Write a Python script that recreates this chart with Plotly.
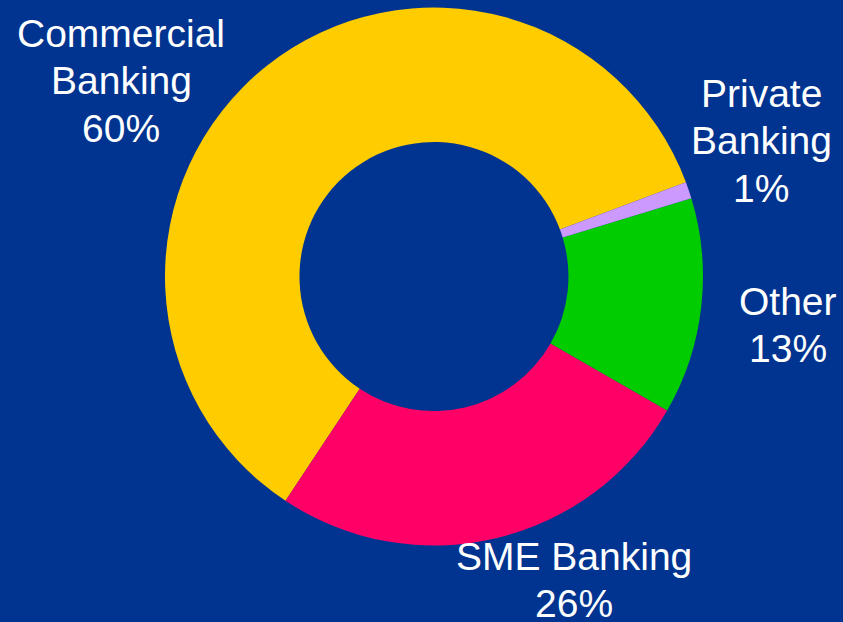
import plotly.graph_objects as go

# Revenue split by business line (share of total, %)
segments = ["Commercial Banking", "SME Banking", "Other", "Private Banking"]
shares = [60, 26, 13, 1]
slice_colors = ["#FFCC00", "#FF0066", "#00CC00", "#CC99FF"]

# Label lines printed beside each slice (the share is added as the last line)
label_lines = [["Commercial", "Banking"], ["SME Banking"], ["Other"], ["Private", "Banking"]]

# Label placement in pixels: horizontal centre and baseline of the first line
label_cx = [121, 574, 788, 761]
label_base = [47, 570, 315, 107]
LINE_PITCH = 47.5
FONT_SIZE = 39

BG = "#003490"
W, H = 843, 622

fig = go.Figure()
fig.add_trace(go.Pie(
    labels=segments,
    values=shares,
    hole=0.5,
    sort=False,
    direction="counterclockwise",
    rotation=213.5,
    marker=dict(colors=slice_colors, line=dict(width=0)),
    textinfo="none",
    hoverinfo="label+percent",
    showlegend=False,
    domain=dict(x=[0.1957, 0.8339], y=[0.1230, 0.9879]),
))

for lines, share, cx, base in zip(label_lines, shares, label_cx, label_base):
    for i, line in enumerate(lines + [f"{share}%"]):
        baseline = base + i * LINE_PITCH
        mid = baseline - 0.3465 * FONT_SIZE
        fig.add_annotation(
            text=line,
            x=cx / W, y=1 - mid / H, xref="paper", yref="paper",
            xanchor="center", yanchor="middle",
            showarrow=False,
            font=dict(family="Arial, Liberation Sans, sans-serif", size=FONT_SIZE, color="white"),
        )

fig.update_layout(
    width=W, height=H,
    margin=dict(l=0, r=0, t=0, b=0),
    paper_bgcolor=BG,
    plot_bgcolor=BG,
)

fig.write_html("out.html")
